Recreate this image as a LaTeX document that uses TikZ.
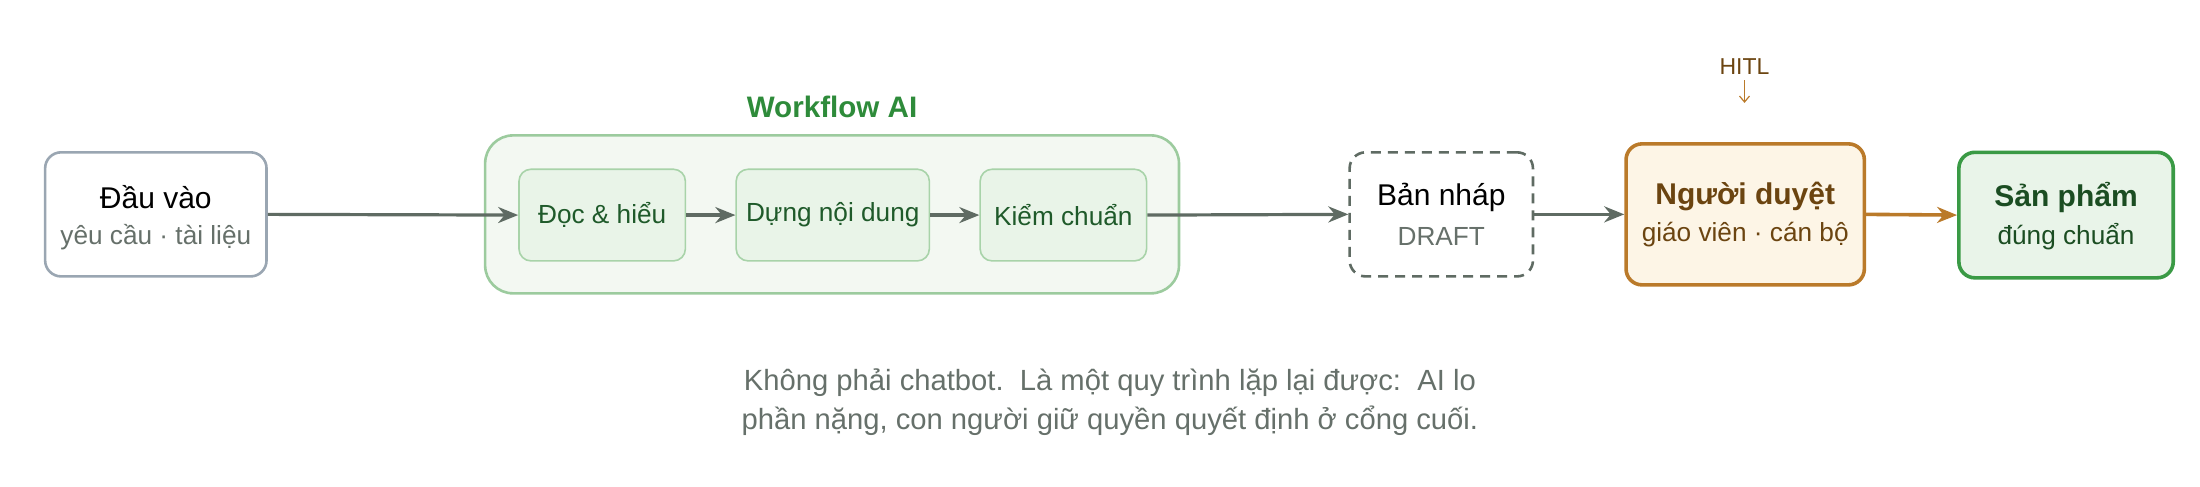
\documentclass[tikz,border=0pt]{standalone}
\usepackage{fontspec}
\setmainfont{Liberation Sans}
\usetikzlibrary{arrows.meta}
\definecolor{gline}{HTML}{5F6B63}
\definecolor{gsub}{HTML}{66706A}
\definecolor{inbord}{HTML}{9AA6B2}
\definecolor{cfill}{HTML}{F3F8F2}
\definecolor{cbord}{HTML}{9CCB9E}
\definecolor{ifill}{HTML}{E9F4E8}
\definecolor{ibord}{HTML}{A8D3A9}
\definecolor{itext}{HTML}{1F5A2A}
\definecolor{wtitle}{HTML}{2E8B3A}
\definecolor{obord}{HTML}{BA7A2A}
\definecolor{ofill}{HTML}{FDF5E6}
\definecolor{otext}{HTML}{6B4410}
\definecolor{pbord}{HTML}{3A9A45}
\definecolor{pfill}{HTML}{E9F4E9}
\definecolor{ptext}{HTML}{1B4D22}
\def\uu{0.705pt}
\begin{document}
\begin{tikzpicture}[x=0.705pt,y=0.705pt,
  box/.style={rounded corners=8pt,line width=1.3pt,inner sep=0pt,align=center},
  inner/.style={rounded corners=6pt,draw=ibord,fill=ifill,line width=0.8pt,text=itext,font=\fontsize{13.1}{15}\selectfont,inner sep=0pt},
  arr/.style={-{Stealth[length=10pt,width=8pt]},line width=1.6pt,draw=gline},
  main/.style={font=\fontsize{15}{18}\selectfont},
  sub/.style={font=\fontsize{13.1}{15}\selectfont}]
\useasboundingbox (0,0) rectangle (1560,-345);
% input
\node[box,draw=inbord,fill=white,minimum width=157*\uu,minimum height=88*\uu] (in) at (110.5,-152) {};
\node[main] (inT) at (110.5,-140) {Đầu vào};
\node[sub,text=gsub] (inS) at (110.5,-168) {yêu cầu · tài liệu};
% container
\node[draw=cbord,fill=cfill,line width=1.3pt,rounded corners=14pt,minimum width=492*\uu,minimum height=112*\uu,inner sep=0pt] (wf) at (590,-152) {};
\node[font=\bfseries\fontsize{14.8}{17}\selectfont,text=wtitle] (wfT) at (590,-76) {Workflow AI};
\node[inner,minimum width=118*\uu,minimum height=65*\uu] (a) at (427,-152.5) {Đọc \& hiểu};
\node[inner,minimum width=137*\uu,minimum height=65*\uu] (b) at (590.5,-152.5) {Dựng nội dung};
\node[inner,minimum width=118*\uu,minimum height=65*\uu] (c) at (754,-152.5) {Kiểm chuẩn};
% draft
\node[box,draw=gline,dashed,dash pattern=on 5pt off 3.5pt,fill=white,minimum width=130*\uu,minimum height=88*\uu] (d) at (1022,-152) {};
\node[main] (dT) at (1022,-140) {Bản nháp};
\node[sub,text=gsub] (dS) at (1022,-168) {DRAFT};
% reviewer
\node[box,draw=obord,fill=ofill,line width=1.8pt,minimum width=169*\uu,minimum height=100*\uu] (r) at (1237.5,-152) {};
\node[font=\bfseries\fontsize{15}{18}\selectfont,text=otext] (rT) at (1237.5,-139) {Người duyệt};
\node[sub,text=otext] (rS) at (1237.5,-166) {giáo viên · cán bộ};
% product
\node[box,draw=pbord,fill=pfill,line width=1.8pt,minimum width=152*\uu,minimum height=89*\uu] (p) at (1465,-152.5) {};
\node[font=\bfseries\fontsize{15}{18}\selectfont,text=ptext] (pT) at (1465,-140) {Sản phẩm};
\node[sub,text=ptext] (pS) at (1465,-168) {đúng chuẩn};
% HITL
\node[font=\fontsize{11.5}{13}\selectfont,text=otext] (h) at (1237,-47) {HITL};
\coordinate (h1) at (1237,-57);
\coordinate (h2) at (1237,-73);
\draw[obord,line width=0.6pt,-{Straight Barb[length=3pt,width=5pt]}] (h1) -- (h2);
% arrows
\draw[arr] (in.east) -- (a.west);
\draw[arr] (a.east) -- (b.west);
\draw[arr] (b.east) -- (c.west);
\draw[arr] (c.east) -- (d.west);
\draw[arr] (d.east) -- (r.west);
\draw[arr,draw=obord,line width=1.8pt] (r.east) -- (p.west);
% caption
\node[font=\fontsize{14.6}{19.5}\selectfont,text=gsub,align=center] (cap) at (787,-285.5) {Không phải chatbot.\ \ Là một quy trình lặp lại được:\ \ AI lo\\phần nặng, con người giữ quyền quyết định ở cổng cuối.};
\end{tikzpicture}
\end{document}
